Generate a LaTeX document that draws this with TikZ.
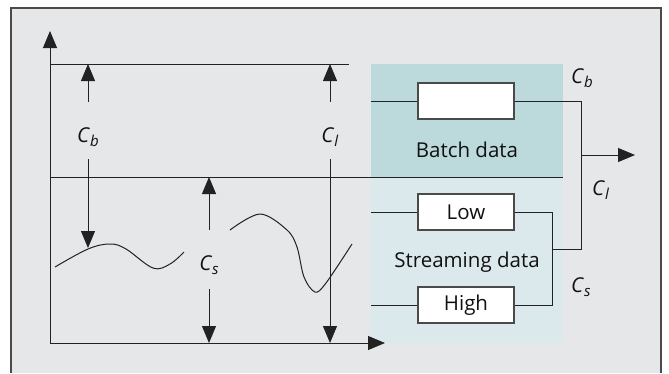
\documentclass[tikz,border=0pt]{standalone}
\usepackage{fontspec}
\setmainfont{Open Sans}
\usetikzlibrary{arrows.meta}
\definecolor{panel}{HTML}{E6E7E9}
\definecolor{batchbg}{HTML}{BCD9DC}
\definecolor{streambg}{HTML}{DCE9EC}
\definecolor{ink}{HTML}{222222}
\definecolor{textink}{HTML}{111111}
\definecolor{frame}{HTML}{4A4A4A}
\newcommand\clab[2]{\textit{#1}\raisebox{-0.22em}{\fontsize{15}{15}\selectfont\textit{#2}}}
\tikzset{
  wire/.style={draw=ink, line width=1pt},
  arr/.style={wire, -{Triangle[width=14pt,length=17pt]}},
  lbl/.style={font=\fontsize{20.5}{24}\selectfont, text=textink, inner sep=0pt, anchor=base},
  databox/.style={draw=frame, fill=white, line width=1.1pt, minimum width=96pt,
    minimum height=36pt, inner sep=0pt, font=\fontsize{20.5}{24}\selectfont, text=textink},
}
\begin{document}
\begin{tikzpicture}[x=1pt, y=-1pt]
\useasboundingbox (0,0) rectangle (669,373);
% outer panel
\fill[panel] (11,8) rectangle (661,373);
\draw[frame, line width=1.1pt] (11,373) -- (11,8) -- (661,8) -- (661,373);

% shaded data areas
\fill[batchbg] (371,64) rectangle (563,177);
\fill[streambg] (371,177) rectangle (563,343);

% axes
\coordinate (O) at (50,343);
\coordinate (ytop) at (50,31);
\coordinate (xend) at (385,343);
\draw[arr] (O) -- (ytop);
\draw[arr] (O) -- (xend);

% capacity levels
\coordinate (topL) at (50,64);
\coordinate (topR) at (349,64);
\coordinate (midL) at (50,177);
\coordinate (midR) at (563,177);
\draw[wire] (topL) -- (topR);
\draw[wire] (midL) -- (midR);

% C_b dimension
\node[lbl] (cb) at (88,142) {\clab{C}{b}};
\coordinate (cbUpS) at (88,102);
\coordinate (cbUpE) at (88,64);
\coordinate (cbDnS) at (88,159);
\coordinate (cbDnE) at (88,248);
\draw[arr] (cbUpS) -- (cbUpE);
\draw[arr] (cbDnS) -- (cbDnE);

% C_l dimension
\node[lbl] (cl) at (330,142) {\clab{C}{l}};
\coordinate (clUpS) at (330,102);
\coordinate (clUpE) at (330,64);
\coordinate (clDnS) at (330,159);
\coordinate (clDnE) at (330,343);
\draw[arr] (clUpS) -- (clUpE);
\draw[arr] (clDnS) -- (clDnE);

% C_s dimension
\node[lbl] (cs) at (209,270) {\clab{C}{s}};
\coordinate (csUpS) at (209,230);
\coordinate (csUpE) at (209,177);
\coordinate (csDnS) at (209,289);
\coordinate (csDnE) at (209,343);
\draw[arr] (csUpS) -- (csUpE);
\draw[arr] (csDnS) -- (csDnE);

% load curves
\draw[wire] plot[smooth, tension=0.6] coordinates
  {(55,267) (88,249) (110,244) (126,249) (153,268) (170,264) (184,252)};
\draw[wire] plot[smooth, tension=0.55] coordinates
  {(230,230) (260,214) (287,230) (297,247) (304,277) (315,292) (326,283) (352,244)};

% data paths
\node[databox] (batch) at (466,101) {};
\node[databox] (low) at (466,212) {Low};
\node[databox] (high) at (466,305) {High};
\node[lbl] (batchlbl) at (467,157) {Batch data};
\node[lbl] (streamlbl) at (467,267) {Streaming data};

\coordinate (bIn) at (371,101);
\coordinate (lIn) at (371,212);
\coordinate (hIn) at (371,305);
\coordinate (bOut) at (581,101);
\coordinate (join) at (581,249);
\coordinate (sMid) at (552,249);
\coordinate (lOut) at (552,212);
\coordinate (hOut) at (552,305);
\coordinate (outS) at (581,155);
\coordinate (outE) at (635,155);

\draw[wire] (bIn) -- (batch.west);
\draw[wire] (lIn) -- (low.west);
\draw[wire] (hIn) -- (high.west);
\draw[wire] (batch.east) -- (bOut) -- (join) -- (sMid);
\draw[wire] (low.east) -- (lOut) -- (hOut) -- (high.east);
\draw[arr] (outS) -- (outE);

% right-hand labels
\node[lbl, anchor=base west] (cbR) at (571,83) {\clab{C}{b}};
\node[lbl, anchor=base west] (clR) at (592,195) {\clab{C}{l}};
\node[lbl, anchor=base west] (csR) at (571,292) {\clab{C}{s}};
\end{tikzpicture}
\end{document}
